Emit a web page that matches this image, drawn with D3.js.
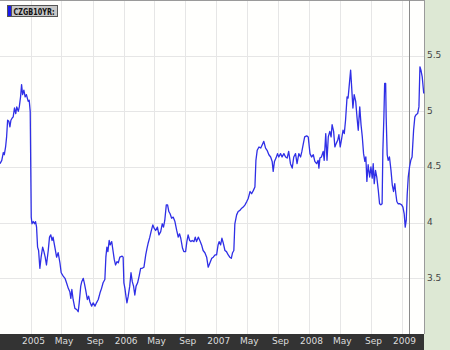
<!DOCTYPE html>
<html lang="en">
<head>
    <meta charset="UTF-8">
    <title>CZGB10YR</title>
    <style>
        body { margin: 0; background: #fff; }
        svg { display: block; }
    </style>
    <script src="https://d3js.org/d3.v7.min.js"></script>
</head>
<body>
    <div id="svg"></div>
    <script>
        const seriesName = "CZGB10YR:";

        const dates = [
            "2004-09-01","2004-09-08","2004-09-14","2004-09-18","2004-09-23","2004-09-27","2004-10-01","2004-10-06","2004-10-10","2004-10-14",
            "2004-10-19","2004-10-23","2004-10-28","2004-11-02","2004-11-06","2004-11-12","2004-11-16","2004-11-21","2004-11-25","2004-11-29",
            "2004-12-04","2004-12-09","2004-12-14","2004-12-21","2004-12-25","2004-12-29","2005-01-02","2005-01-05","2005-01-10","2005-01-15",
            "2005-01-19","2005-01-23","2005-01-27","2005-01-31","2005-02-05","2005-02-10","2005-02-16","2005-02-21","2005-02-26","2005-03-03",
            "2005-03-10","2005-03-15","2005-03-20","2005-03-25","2005-03-29","2005-04-05","2005-04-12","2005-04-18","2005-04-25","2005-04-30",
            "2005-05-08","2005-05-15","2005-05-21","2005-05-28","2005-06-03","2005-06-07","2005-06-11","2005-06-16","2005-06-23","2005-06-30",
            "2005-07-06","2005-07-10","2005-07-16","2005-07-20","2005-07-26","2005-07-30","2005-08-04","2005-08-11","2005-08-16","2005-08-21",
            "2005-08-28","2005-09-03","2005-09-10","2005-09-16","2005-09-23","2005-09-30","2005-10-06","2005-10-12","2005-10-19","2005-10-23",
            "2005-10-27","2005-10-31","2005-11-05","2005-11-09","2005-11-15","2005-11-20","2005-11-25","2005-11-30","2005-12-06","2005-12-11",
            "2005-12-17","2005-12-26","2005-12-30","2006-01-02","2006-01-06","2006-01-10","2006-01-14","2006-01-19","2006-01-25","2006-01-30",
            "2006-02-04","2006-02-09","2006-02-14","2006-02-19","2006-02-25","2006-03-03","2006-03-09","2006-03-15","2006-03-22","2006-03-29",
            "2006-04-03","2006-04-08","2006-04-14","2006-04-19","2006-04-26","2006-05-01","2006-05-07","2006-05-14","2006-05-20","2006-05-27",
            "2006-06-02","2006-06-07","2006-06-12","2006-06-18","2006-06-23","2006-06-28","2006-07-03","2006-07-09","2006-07-15","2006-07-22",
            "2006-07-29","2006-08-04","2006-08-09","2006-08-14","2006-08-21","2006-08-26","2006-09-02","2006-09-07","2006-09-12","2006-09-18",
            "2006-09-23","2006-09-28","2006-10-05","2006-10-10","2006-10-15","2006-10-22","2006-10-28","2006-11-04","2006-11-10","2006-11-17",
            "2006-11-24","2006-11-30","2006-12-07","2006-12-14","2006-12-20","2006-12-27","2007-01-02","2007-01-08","2007-01-12","2007-01-18",
            "2007-01-23","2007-01-28","2007-02-04","2007-02-10","2007-02-17","2007-02-23","2007-03-01","2007-03-06","2007-03-11","2007-03-15",
            "2007-03-22","2007-03-28","2007-04-04","2007-04-11","2007-04-17","2007-04-24","2007-05-01","2007-05-07","2007-05-14","2007-05-20",
            "2007-05-27","2007-06-02","2007-06-06","2007-06-11","2007-06-18","2007-06-25","2007-07-01","2007-07-07","2007-07-14","2007-07-20",
            "2007-07-27","2007-08-03","2007-08-09","2007-08-13","2007-08-18","2007-08-24","2007-08-30","2007-09-04","2007-09-11","2007-09-17",
            "2007-09-24","2007-10-01","2007-10-07","2007-10-13","2007-10-20","2007-10-27","2007-11-02","2007-11-09","2007-11-15","2007-11-22",
            "2007-11-29","2007-12-04","2007-12-09","2007-12-15","2007-12-23","2007-12-29","2008-01-05","2008-01-11","2008-01-18","2008-01-24",
            "2008-01-31","2008-02-06","2008-02-09","2008-02-13","2008-02-19","2008-02-26","2008-03-01","2008-03-07","2008-03-12","2008-03-17",
            "2008-03-23","2008-03-28","2008-04-01","2008-04-07","2008-04-12","2008-04-17","2008-04-23","2008-04-28","2008-05-03","2008-05-09",
            "2008-05-14","2008-05-19","2008-05-24","2008-05-30","2008-06-03","2008-06-07","2008-06-13","2008-06-17","2008-06-22","2008-06-27",
            "2008-07-03","2008-07-08","2008-07-13","2008-07-19","2008-07-24","2008-07-29","2008-08-03","2008-08-08","2008-08-12","2008-08-16",
            "2008-08-21","2008-08-27","2008-09-01","2008-09-06","2008-09-10","2008-09-14","2008-09-19","2008-09-24","2008-09-30","2008-10-05",
            "2008-10-10","2008-10-15","2008-10-18","2008-10-22","2008-10-25","2008-10-29","2008-10-31","2008-11-04","2008-11-08","2008-11-13",
            "2008-11-19","2008-11-24","2008-11-29","2008-12-04","2008-12-08","2008-12-12","2008-12-17","2008-12-24","2008-12-31","2009-01-05",
            "2009-01-10","2009-01-14","2009-01-18","2009-01-22","2009-01-26","2009-01-31","2009-02-05","2009-02-10","2009-02-16","2009-02-21",
            "2009-02-26","2009-03-04","2009-03-09","2009-03-13","2009-03-17","2009-03-22","2009-03-28"
        ];

        const yields = [
            4.53,4.56,4.63,4.61,4.68,4.77,4.92,4.91,4.86,4.92,
            4.94,4.95,5.03,4.98,5.04,5.00,5.04,5.13,5.24,5.15,
            5.19,5.13,5.15,5.09,5.10,5.00,4.05,3.99,4.01,3.99,
            4.01,3.96,3.78,3.75,3.59,3.69,3.78,3.74,3.69,3.62,
            3.75,3.87,3.89,3.84,3.87,3.78,3.69,3.73,3.64,3.55,
            3.52,3.50,3.46,3.41,3.38,3.32,3.40,3.31,3.23,3.22,
            3.20,3.28,3.43,3.47,3.50,3.46,3.40,3.31,3.34,3.29,
            3.25,3.28,3.25,3.28,3.31,3.37,3.41,3.46,3.49,3.69,
            3.78,3.74,3.84,3.80,3.83,3.75,3.67,3.62,3.65,3.64,
            3.69,3.70,3.69,3.46,3.41,3.34,3.28,3.34,3.43,3.55,
            3.47,3.43,3.35,3.43,3.46,3.52,3.59,3.59,3.60,3.71,
            3.77,3.82,3.87,3.92,3.98,3.95,3.93,3.96,3.89,3.92,
            3.99,3.96,4.02,4.16,4.16,4.10,4.08,4.04,4.05,4.01,
            3.93,3.87,3.90,3.86,3.77,3.74,3.74,3.83,3.89,3.84,
            3.83,3.84,3.83,3.87,3.83,3.87,3.84,3.80,3.75,3.73,
            3.69,3.60,3.64,3.68,3.69,3.71,3.71,3.80,3.83,3.80,
            3.86,3.82,3.75,3.74,3.71,3.69,3.68,3.73,3.75,3.99,
            4.07,4.10,4.11,4.13,4.14,4.16,4.19,4.22,4.28,4.26,
            4.29,4.32,4.56,4.65,4.68,4.67,4.70,4.73,4.67,4.65,
            4.61,4.59,4.55,4.46,4.55,4.58,4.62,4.59,4.62,4.59,
            4.62,4.59,4.58,4.64,4.53,4.49,4.59,4.62,4.53,4.62,
            4.59,4.64,4.70,4.77,4.78,4.77,4.62,4.59,4.61,4.55,
            4.53,4.56,4.49,4.58,4.59,4.64,4.56,4.80,4.56,4.77,
            4.82,4.77,4.88,4.82,4.68,4.71,4.74,4.79,4.68,4.76,
            4.83,4.80,4.92,5.13,5.12,5.22,5.37,5.22,5.03,5.15,
            5.09,4.95,4.83,5.04,4.88,4.77,4.62,4.55,4.59,4.37,
            4.52,4.41,4.50,4.40,4.53,4.35,4.47,4.41,4.29,4.17,
            4.16,4.17,4.65,4.95,5.25,5.25,4.95,4.61,4.56,4.59,
            4.47,4.34,4.28,4.35,4.26,4.19,4.17,4.17,4.16,4.14,
            4.08,3.96,4.02,4.26,4.41,4.50,4.56,4.59,4.83,4.95,
            4.97,4.98,5.04,5.40,5.37,5.31,5.16
        ];

        const xTicks = ["2005-01-01","2005-05-01","2005-09-01","2006-01-01","2006-05-01","2006-09-01",
                        "2007-01-01","2007-05-01","2007-09-01","2008-01-01","2008-05-01","2008-09-01","2009-01-01"];
        const xTickLabels = ["2005","May","Sep","2006","May","Sep","2007","May","Sep","2008","May","Sep","2009"];
        const yTicks = [3.5, 4, 4.5, 5, 5.5];
        const yTickLabels = ["3.5", "4", "4.5", "5", "5.5"];
        const xDomain = ["2004-09-01", "2009-03-29"];
        const yDomain = [3, 6];
        const cursorDate = "2009-01-30";

        const boxWidth = 450, boxHeight = 350;
        const plotWidth = 424, plotHeight = 334;
        const parse = d3.utcParse("%Y-%m-%d");

        const svg = d3.select('#svg').append('svg')
            .attr("width", boxWidth).attr("height", boxHeight)
            .style("font-family", "'DejaVu Sans', Verdana, sans-serif");

        // right value panel
        svg.append("rect").attr("x", plotWidth).attr("y", 0)
            .attr("width", boxWidth - plotWidth).attr("height", boxHeight)
            .attr("fill", "#dde8d4");
        // plot background
        svg.append("rect").attr("x", 0).attr("y", 0)
            .attr("width", plotWidth).attr("height", plotHeight)
            .attr("fill", "#fffffd");
        // bottom date bar
        svg.append("rect").attr("x", 0).attr("y", plotHeight)
            .attr("width", plotWidth).attr("height", boxHeight - plotHeight)
            .attr("fill", "#333333");

        const xScale = d3.scaleUtc()
            .domain(xDomain.map(parse))
            .range([0, plotWidth]);

        const yScale = d3.scaleLinear()
            .domain(yDomain)
            .range([plotHeight, 0]);

        // grid
        const xGrid = svg.append("g").attr("transform", `translate(0, ${plotHeight})`)
            .call(d3.axisBottom(xScale).tickValues(xTicks.map(parse)).tickSize(-plotHeight).tickFormat(""));
        const yGrid = svg.append("g")
            .call(d3.axisLeft(yScale).tickValues(yTicks).tickSize(-plotWidth).tickFormat(""));
        [xGrid, yGrid].forEach(g => {
            g.select(".domain").remove();
            g.selectAll(".tick line").attr("stroke", "#e6e6e6").attr("shape-rendering", "crispEdges");
        });

        // plot borders
        svg.append("line").attr("x1", 0).attr("x2", plotWidth).attr("y1", 0.5).attr("y2", 0.5)
            .attr("stroke", "#9a9a9a");
        svg.append("line").attr("x1", plotWidth + 0.5).attr("x2", plotWidth + 0.5).attr("y1", 0).attr("y2", plotHeight)
            .attr("stroke", "#9a9a9a");

        // cursor line
        svg.append("line")
            .attr("x1", Math.round(xScale(parse(cursorDate))) + 0.5)
            .attr("x2", Math.round(xScale(parse(cursorDate))) + 0.5)
            .attr("y1", 0).attr("y2", plotHeight)
            .attr("stroke", "#8a8a8a");

        // series
        const data = dates.map((d, i) => ({ date: parse(d), value: yields[i] }));
        const line = d3.line().x(d => xScale(d.date)).y(d => yScale(d.value));
        svg.append("path").datum(data)
            .attr("d", line)
            .attr("fill", "none")
            .attr("stroke", "#2f2fe6")
            .attr("stroke-width", 1.3)
            .attr("stroke-linejoin", "round");

        // x axis labels
        const xAxis = svg.append("g").attr("transform", `translate(0, ${plotHeight})`)
            .call(d3.axisBottom(xScale).tickValues(xTicks.map(parse)).tickSize(0).tickPadding(4)
                .tickFormat((d, i) => xTickLabels[i]));
        xAxis.select(".domain").remove();
        xAxis.selectAll("text").attr("fill", "#dddddd").attr("font-size", 9).attr("dx", 2)
            .style("font-family", "'DejaVu Sans', Verdana, sans-serif");

        // y axis labels
        const yAxis = svg.append("g").attr("transform", `translate(${plotWidth}, 0)`)
            .call(d3.axisRight(yScale).tickValues(yTicks).tickSize(0).tickPadding(3)
                .tickFormat((d, i) => yTickLabels[i]));
        yAxis.select(".domain").remove();
        yAxis.selectAll("text").attr("fill", "#444").attr("font-size", 9).attr("dy", "0.2em")
            .style("font-family", "'DejaVu Sans', Verdana, sans-serif");

        // legend
        const legend = svg.append("g").attr("transform", "translate(7, 5)");
        legend.append("rect").attr("x", 0.5).attr("y", 0.5).attr("width", 50).attr("height", 11)
            .attr("fill", "#c8c8c8").attr("stroke", "#555");
        legend.append("rect").attr("x", 0.5).attr("y", 0.5).attr("width", 4).attr("height", 11)
            .attr("fill", "#1a1aee").attr("stroke", "#555");
        legend.append("text").attr("x", 6.5).attr("y", 9.5)
            .attr("font-size", 8.5).attr("font-weight", "bold").attr("fill", "#111")
            .attr("textLength", 41).attr("lengthAdjust", "spacingAndGlyphs")
            .text(seriesName);
    </script>
</body>
</html>
